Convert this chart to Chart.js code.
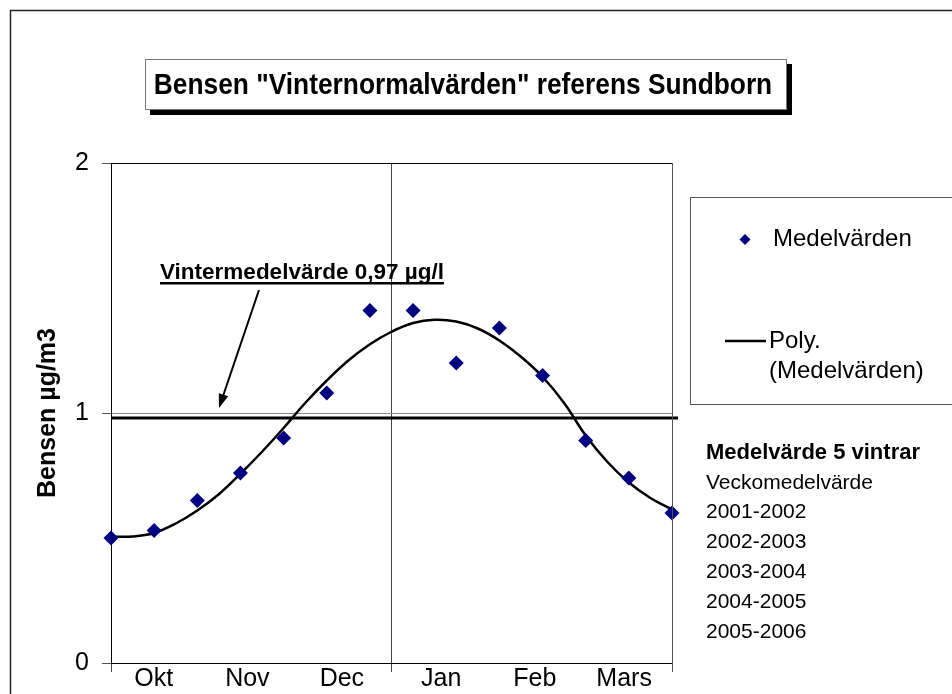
<!DOCTYPE html>
<html>
<head>
<meta charset="utf-8">
<title>Bensen Vinternormalvärden</title>
<script src="https://cdn.jsdelivr.net/npm/chart.js@4.4.1/dist/chart.umd.min.js"></script>
<style>
  html, body { margin: 0; padding: 0; background: #fff; }
  canvas { display: block; }
</style>
</head>
<body>
<canvas id="chart" width="952" height="694"></canvas>
<script>
// veckomedelvärden (vecka 0 = början av oktober)
const weeks = [0, 1, 2, 3, 4, 5, 6, 7, 8, 9, 10, 11, 12, 13]
const meanValues = [0.50, 0.53, 0.65, 0.76, 0.90, 1.08, 1.41, 1.41, 1.20, 1.34, 1.15, 0.89, 0.74, 0.60]

// polynomtrendlinjen
const trendWeeks = [0, 0.5, 1, 1.5, 2, 2.5, 3, 3.5, 4, 4.5, 5, 5.5, 6, 6.5, 7, 7.5, 8, 8.5, 9, 9.5, 10, 10.5, 11, 11.5, 12, 12.5, 13]
const trendValues = [0.506, 0.506, 0.52, 0.558, 0.61, 0.675, 0.757, 0.845, 0.94, 1.04, 1.13, 1.21, 1.275, 1.325, 1.36, 1.373, 1.366, 1.338, 1.29, 1.225, 1.145, 1.04, 0.91, 0.805, 0.722, 0.66, 0.614]

// vintermedelvärde (linjen)
const winterMean = 0.98
const winterLineEnd = 13.14

// axlar
const monthLabels = ["Okt", "Nov", "Dec", "Jan", "Feb", "Mars"]
const monthPos = [0.99, 3.16, 5.35, 7.65, 9.82, 11.89]
const dividerPos = [0, 6.5, 13]
const yTicks = [0, 1, 2]

const sideText = ["Medelvärde 5 vintrar", "Veckomedelvärde", "2001-2002", "2002-2003", "2003-2004", "2004-2005", "2005-2006"]

const FONT = '"Liberation Sans", Arial, sans-serif'

// ritar ram, titel, legend, pil och texter
const decorPlugin = {
    id: "decor",
    afterDraw(chart) {
        const ctx = chart.ctx
        const area = chart.chartArea
        ctx.save()

        // yttre ram
        ctx.strokeStyle = "#222"
        ctx.lineWidth = 1.5
        ctx.strokeRect(10.5, 10.5, 960, 700)

        // diagramytans över- och högerkant
        ctx.lineWidth = 1
        ctx.strokeStyle = "#000"
        ctx.beginPath()
        ctx.moveTo(area.left, area.top + 0.5)
        ctx.lineTo(area.right, area.top + 0.5)
        ctx.stroke()
        ctx.strokeStyle = "#555"
        ctx.beginPath()
        ctx.moveTo(area.right + 0.5, area.top)
        ctx.lineTo(area.right + 0.5, area.bottom + 9)
        ctx.stroke()

        // titelruta med skugga
        ctx.fillStyle = "#000"
        ctx.fillRect(150, 64, 642, 51)
        ctx.fillStyle = "#fff"
        ctx.fillRect(145, 59, 642, 51)
        ctx.strokeStyle = "#777"
        ctx.strokeRect(145.5, 59.5, 641, 50)
        ctx.fillStyle = "#000"
        ctx.textAlign = "center"
        ctx.textBaseline = "middle"
        ctx.save()
        ctx.translate(463, 86)
        ctx.scale(0.975, 1.08)
        ctx.font = "bold 27px " + FONT
        ctx.fillText('Bensen "Vinternormalvärden" referens Sundborn', 0, 0)
        ctx.restore()

        // legend
        const ds0 = chart.data.datasets[0]
        const ds1 = chart.data.datasets[1]
        ctx.fillStyle = "#fff"
        ctx.fillRect(690, 197, 270, 207)
        ctx.strokeStyle = "#555"
        ctx.strokeRect(690.5, 197.5, 270, 207)
        ctx.fillStyle = ds0.backgroundColor
        ctx.beginPath()
        ctx.moveTo(745, 234)
        ctx.lineTo(750.5, 239.5)
        ctx.lineTo(745, 245)
        ctx.lineTo(739.5, 239.5)
        ctx.closePath()
        ctx.fill()
        ctx.fillStyle = "#000"
        ctx.font = "24px " + FONT
        ctx.textAlign = "left"
        ctx.fillText(ds0.label, 773, 239)
        ctx.strokeStyle = ds1.borderColor
        ctx.lineWidth = 2.5
        ctx.beginPath()
        ctx.moveTo(725, 341)
        ctx.lineTo(766, 341)
        ctx.stroke()
        ctx.fillText("Poly.", 769, 341)
        ctx.fillText("(Medelvärden)", 769, 371)

        // texter till höger
        sideText.forEach((t, i) => {
            ctx.font = (i === 0 ? "bold 22px " : "21px ") + FONT
            ctx.fillText(t, 706, 453 + i * 29.8)
        })

        // anteckning om vintermedelvärdet
        ctx.font = "bold 22.5px " + FONT
        ctx.textBaseline = "alphabetic"
        const note = "Vintermedelvärde 0,97 µg/l"
        ctx.fillText(note, 160, 279)
        const w = ctx.measureText(note).width
        ctx.fillRect(160, 282, w, 2.5)

        // pil
        const x1 = 259, y1 = 290, x2 = 219, y2 = 408
        const ang = Math.atan2(y2 - y1, x2 - x1)
        ctx.strokeStyle = "#000"
        ctx.lineWidth = 2
        ctx.beginPath()
        ctx.moveTo(x1, y1)
        ctx.lineTo(x2 - 10 * Math.cos(ang), y2 - 10 * Math.sin(ang))
        ctx.stroke()
        ctx.beginPath()
        ctx.moveTo(x2, y2)
        ctx.lineTo(x2 - 14 * Math.cos(ang) + 5 * Math.sin(ang), y2 - 14 * Math.sin(ang) - 5 * Math.cos(ang))
        ctx.lineTo(x2 - 14 * Math.cos(ang) - 5 * Math.sin(ang), y2 - 14 * Math.sin(ang) + 5 * Math.cos(ang))
        ctx.closePath()
        ctx.fillStyle = "#000"
        ctx.fill()

        ctx.restore()
    }
}

const ctx = document.getElementById("chart")
new Chart(ctx, {
    type: "scatter",
    data: {
        datasets: [
            {
                label: "Medelvärden",
                data: weeks.map((w, i) => ({ x: w, y: meanValues[i] })),
                pointStyle: "rectRot",
                pointRadius: 7.5,
                pointBackgroundColor: "#000080",
                pointBorderColor: "#000080",
                pointBorderWidth: 0,
                backgroundColor: "#000080",
                borderColor: "#000080",
                showLine: false,
                clip: 10
            },
            {
                label: "Poly. (Medelvärden)",
                data: trendWeeks.map((w, i) => ({ x: w, y: trendValues[i] })),
                showLine: true,
                borderColor: "#000",
                borderWidth: 2.5,
                pointRadius: 0,
                tension: 0.4
            },
            {
                label: "Vintermedelvärde",
                data: [{ x: 0, y: winterMean }, { x: winterLineEnd, y: winterMean }],
                showLine: true,
                borderColor: "#000",
                borderWidth: 3,
                pointRadius: 0,
                clip: 10
            }
        ]
    },
    options: {
        responsive: false,
        animation: false,
        layout: {
            padding: { top: 163, right: 280, left: 0, bottom: 0 }
        },
        plugins: {
            legend: { display: false },
            tooltip: { enabled: false }
        },
        scales: {
            x: {
                type: "linear",
                min: 0,
                max: 13,
                afterBuildTicks: (scale) => {
                    scale.ticks = dividerPos.concat(monthPos).sort((a, b) => a - b).map(v => ({ value: v }))
                },
                afterFit: (scale) => { scale.height = 31 },
                ticks: {
                    autoSkip: false,
                    maxRotation: 0,
                    padding: -8,
                    color: "#000",
                    font: { family: FONT, size: 25 },
                    callback: (v) => {
                        const i = monthPos.indexOf(v)
                        return i >= 0 ? monthLabels[i] : ""
                    }
                },
                grid: {
                    tickLength: 9,
                    color: (c) => (c.tick && c.tick.value === 6.5 ? "#444" : "rgba(0,0,0,0)"),
                    tickColor: (c) => (c.tick && dividerPos.includes(c.tick.value) ? "#444" : "rgba(0,0,0,0)")
                },
                border: { color: "#000", width: 1 }
            },
            y: {
                min: 0,
                max: 2,
                afterBuildTicks: (scale) => {
                    scale.ticks = yTicks.map(v => ({ value: v }))
                },
                afterFit: (scale) => { scale.width = 111 },
                ticks: {
                    padding: 13,
                    color: "#000",
                    font: { family: FONT, size: 25 }
                },
                grid: {
                    tickLength: 9,
                    color: (c) => (c.tick && c.tick.value === 1 ? "#888" : "rgba(0,0,0,0)"),
                    tickColor: "#555"
                },
                border: { color: "#000", width: 1 },
                title: {
                    display: true,
                    text: "Bensen µg/m3",
                    color: "#000",
                    font: { family: FONT, size: 25, weight: "bold" },
                    padding: { top: 33, bottom: 0 }
                }
            }
        }
    },
    plugins: [decorPlugin]
})
</script>
</body>
</html>
